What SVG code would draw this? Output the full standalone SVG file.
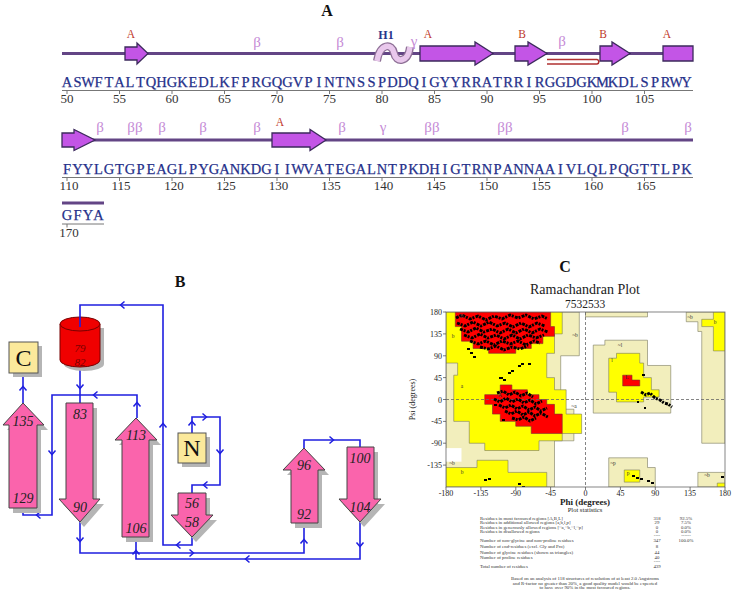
<svg xmlns="http://www.w3.org/2000/svg" xmlns:xlink="http://www.w3.org/1999/xlink" width="735" height="595" viewBox="0 0 735 595">
<style>
.title{font-family:"Liberation Serif",serif;font-size:16px;font-weight:bold;fill:#111;text-anchor:middle}
.seq{font-family:"Liberation Serif",serif;font-size:14.5px;fill:#25308a;stroke:#25308a;stroke-width:0.25;text-anchor:middle}
.num{font-family:"Liberation Serif",serif;font-size:13px;fill:#333;text-anchor:middle}
.beta{font-family:"Liberation Serif",serif;font-size:15px;fill:#c58ad6;text-anchor:middle}
.ss{font-family:"Liberation Serif",serif;font-size:11.5px;fill:#c0392b;text-anchor:middle}
.hx{font-family:"Liberation Serif",serif;font-size:12px;font-weight:bold;fill:#27348b;text-anchor:middle}
.bb{stroke:#634585;stroke-width:3;fill:none}
.ul{stroke:#777;stroke-width:1;fill:none}
.arrA{fill:#c355e6;stroke:#3c2a5c;stroke-width:1.3}
.strand{fill:#fa64ac;stroke:#444;stroke-width:1}
.shadow{fill:#b5b5b5}
.box{fill:#fbe99b;stroke:#555;stroke-width:1}
.lbl{font-family:"Liberation Serif",serif;font-style:italic;font-size:14px;fill:#222;text-anchor:middle}
.conn{fill:none;stroke:#1f1fe0;stroke-width:1.6}
.chev{fill:none;stroke:#1f1fe0;stroke-width:1.5}
.ax{font-family:"Liberation Serif",serif;font-size:8px;fill:#222}
.st{font-family:"Liberation Serif",serif;font-size:4.8px;fill:#333}
.pl{font-family:"Liberation Serif",serif;font-size:5.5px;fill:#333;text-anchor:middle}
.pale{fill:#f2eebc;stroke:#7a7a60;stroke-width:0.6}
.yel{fill:#ffff00;stroke:#7a7a60;stroke-width:0.6}
.red{fill:#ff0000;stroke:#7a3030;stroke-width:0.6}
.dots{fill:none;stroke:#000;stroke-width:2.9;stroke-dasharray:3 0.9 2 1.3;stroke-linejoin:round}
</style>
<defs>
<path id="ch" class="chev" d="M-2.5,-3.5 L1.5,0 L-2.5,3.5"/>
<clipPath id="plotclip"><rect x="446" y="312" width="279" height="175"/></clipPath>
</defs>
<rect width="735" height="595" fill="#fff"/>

<!-- Panel A -->
<g id="panelA">
<text class="title" x="327" y="16">A</text>
<path class="bb" d="M62,53.5 H693"/>
<path class="arrA" d="M125,47 H137 V43 L148,53.5 L137,64 V60 H125 Z"/>
<path class="arrA" d="M420,46 H475 V42 L493,53.5 L475,65 V61 H420 Z"/>
<path class="arrA" d="M515,46 H528 V42 L547,53.5 L528,65 V61 H515 Z"/>
<path class="arrA" d="M600,46 H612 V42 L630,53.5 L612,65 V61 H600 Z"/>
<path class="arrA" d="M663,46 H693 V61 H663 Z"/>
<path d="M377,61 C380,43 392,43 394,53 C396,63 408,63 410,47" fill="none" stroke="#8e7096" stroke-width="8"/>
<path d="M377,61 C380,43 392,43 394,53 C396,63 408,63 410,47" fill="none" stroke="#e9c8ec" stroke-width="5.5"/>
<path d="M547,59.5 H597 A2.3,2.3 0 0 1 597,64 H547" fill="none" stroke="#b03030" stroke-width="1.6"/>
<text class="ss" x="131" y="38">A</text>
<text class="beta" x="257" y="47">β</text>
<text class="beta" x="340" y="47">β</text>
<text class="hx" x="386" y="39">H1</text>
<text class="beta" x="414" y="46">γ</text>
<text class="ss" x="428" y="38">A</text>
<text class="ss" x="522" y="38">B</text>
<text class="beta" x="562" y="46">β</text>
<text class="ss" x="603" y="38">B</text>
<text class="ss" x="667" y="38">A</text>
<text class="seq" x="67 77.5 88 98.5 109 119.5 130 140.5 151 161.5 172 182.5 193 203.5 214 224.5 235 245.5 256 266.5 277 287.5 298 308.5 319 329.5 340 350.5 361 371.5 382 392.5 403 413.5 424 434.5 445 455.5 466 476.5 487 497.5 508 518.5 529 539.5 550 560.5 571 581.5 592 602.5 613 623.5 634 644.5 655 665.5 676 686.5" y="87">ASWFTALTQHGKEDLKFPRGQGVPINTNSSPDDQIGYYRRATRRIRGGDGKMKDLSPRWY</text>
<path class="ul" d="M62,90.5 H693 M67,90.5 V94 M119.5,90.5 V94 M172,90.5 V94 M224.5,90.5 V94 M277,90.5 V94 M329.5,90.5 V94 M382,90.5 V94 M434.5,90.5 V94 M487,90.5 V94 M539.5,90.5 V94 M592,90.5 V94 M644.5,90.5 V94"/>
<text class="num" x="67" y="103">50</text>
<text class="num" x="119.5" y="103">55</text>
<text class="num" x="172" y="103">60</text>
<text class="num" x="224.5" y="103">65</text>
<text class="num" x="277" y="103">70</text>
<text class="num" x="329.5" y="103">75</text>
<text class="num" x="382" y="103">80</text>
<text class="num" x="434.5" y="103">85</text>
<text class="num" x="487" y="103">90</text>
<text class="num" x="539.5" y="103">95</text>
<text class="num" x="592" y="103">100</text>
<text class="num" x="644.5" y="103">105</text>

<path class="bb" d="M62,140 H693"/>
<path class="arrA" d="M62,133 H74 V129.5 L95,140 L74,150.5 V147 H62 Z"/>
<path class="arrA" d="M272,133 H310 V129.5 L326,140 L310,150.5 V147 H272 Z"/>
<text class="beta" x="100" y="132">β</text>
<text class="beta" x="135" y="132">ββ</text>
<text class="beta" x="162" y="132">β</text>
<text class="beta" x="203" y="132">β</text>
<text class="beta" x="257" y="132">β</text>
<text class="ss" x="280" y="126">A</text>
<text class="beta" x="342" y="132">β</text>
<text class="beta" x="383" y="132">γ</text>
<text class="beta" x="432" y="132">ββ</text>
<text class="beta" x="505" y="132">ββ</text>
<text class="beta" x="625" y="132">β</text>
<text class="beta" x="688" y="132">β</text>
<text class="seq" x="67 77.5 88 98.5 109 119.5 130 140.5 151 161.5 172 182.5 193 203.5 214 224.5 235 245.5 256 266.5 277 287.5 298 308.5 319 329.5 340 350.5 361 371.5 382 392.5 403 413.5 424 434.5 445 455.5 466 476.5 487 497.5 508 518.5 529 539.5 550 560.5 571 581.5 592 602.5 613 623.5 634 644.5 655 665.5 676 686.5" y="174">FYYLGTGPEAGLPYGANKDGIIWVATEGALNTPKDHIGTRNPANNAAIVLQLPQGTTLPK</text>
<path class="ul" d="M62,177.5 H693 M67,177.5 V181 M119.5,177.5 V181 M172,177.5 V181 M224.5,177.5 V181 M277,177.5 V181 M329.5,177.5 V181 M382,177.5 V181 M434.5,177.5 V181 M487,177.5 V181 M539.5,177.5 V181 M592,177.5 V181 M644.5,177.5 V181"/>
<text class="num" x="69" y="190">110</text>
<text class="num" x="121" y="190">115</text>
<text class="num" x="174" y="190">120</text>
<text class="num" x="226" y="190">125</text>
<text class="num" x="278.5" y="190">130</text>
<text class="num" x="331" y="190">135</text>
<text class="num" x="383.5" y="190">140</text>
<text class="num" x="436" y="190">145</text>
<text class="num" x="488.5" y="190">150</text>
<text class="num" x="541" y="190">155</text>
<text class="num" x="593.5" y="190">160</text>
<text class="num" x="646" y="190">165</text>

<path class="bb" d="M62,203 H104"/>
<text class="seq" x="67 77.5 88 98.5" y="220">GFYA</text>
<path class="ul" d="M62,224 H104 M67,224 V227.5"/>
<text class="num" x="69" y="237">170</text>
</g>

<!-- Panel B -->
<text class="title" x="180" y="287">B</text>
<g id="connectors">
<path class="conn" d="M23,373 V403"/>
<path class="conn" d="M23,508 V515 H52 V395 H137 V418"/>
<path class="conn" d="M80,363 V403"/>
<path class="conn" d="M80,522 V553 H304 V523"/>
<path class="conn" d="M360,522 V559 H136 V537"/>
<path class="conn" d="M192,433 V417 H220 V485 H192 V493"/>
<path class="conn" d="M304,448 V440 H360 V447"/>
<use href="#ch" transform="translate(23,388) rotate(-90)"/>
<use href="#ch" transform="translate(38,515) rotate(180)"/>
<use href="#ch" transform="translate(52,453) rotate(90)"/>
<use href="#ch" transform="translate(95,395) rotate(180)"/>
<use href="#ch" transform="translate(137,404) rotate(-90)"/>
<use href="#ch" transform="translate(80,387) rotate(90)"/>
<use href="#ch" transform="translate(80,540) rotate(90)"/>
<use href="#ch" transform="translate(192,553)"/>
<use href="#ch" transform="translate(304,541) rotate(-90)"/>
<use href="#ch" transform="translate(360,545) rotate(90)"/>
<use href="#ch" transform="translate(247,559) rotate(180)"/>
<use href="#ch" transform="translate(136,552) rotate(-90)"/>
<use href="#ch" transform="translate(192,423) rotate(-90)"/>
<use href="#ch" transform="translate(205,417)"/>
<use href="#ch" transform="translate(220,452) rotate(90)"/>
<use href="#ch" transform="translate(205,485) rotate(180)"/>
<use href="#ch" transform="translate(332,440)"/>
</g>
<g id="nodeC">
<rect class="shadow" x="13" y="346" width="29" height="31"/>
<rect class="box" x="9" y="342" width="29" height="31"/>
<text x="23.5" y="366" font-family="Liberation Serif, serif" font-size="24" fill="#111" text-anchor="middle">C</text>
</g>
<g id="nodeN">
<rect class="shadow" x="182" y="437" width="28" height="30"/>
<rect class="box" x="178" y="433" width="28" height="30"/>
<text x="192" y="456" font-family="Liberation Serif, serif" font-size="24" fill="#111" text-anchor="middle">N</text>
</g>
<g id="helix79-82">
<path class="shadow" d="M64,328 V364 A20,7 0 0 0 104,364 V328 Z"/>
<path d="M60,324 V360 A20,7 0 0 0 100,360 V324 Z" fill="#f00000" stroke="#700" stroke-width="1"/>
<ellipse cx="80" cy="324" rx="20" ry="7" fill="#f00000" stroke="#700" stroke-width="1"/>
<text x="80" y="352" font-family="Liberation Serif, serif" font-style="italic" font-size="11" fill="#7a0000" text-anchor="middle">79</text>
<text x="80" y="366" font-family="Liberation Serif, serif" font-style="italic" font-size="11" fill="#7a0000" text-anchor="middle">82</text>
</g>
<path class="conn" d="M80,327 V305 H163 V545 H192 V537"/>
<use href="#ch" transform="translate(122,305) rotate(180)"/>
<use href="#ch" transform="translate(163,425) rotate(-90)"/>
<use href="#ch" transform="translate(178,545) rotate(180)"/>
<g id="strand129-135">
<path class="shadow" d="M13,513 V430 H7 L27,408 L48,430 H41 V513 Z"/>
<path class="strand" d="M9,508 V425 H3 L23,403 L44,425 H37 V508 Z"/>
<text class="lbl" x="23" y="426">135</text>
<text class="lbl" x="23" y="503">129</text>
</g>
<g id="strand83-90">
<path class="shadow" d="M70,408 H97 V504 H104 L84,527 L63,504 H70 Z"/>
<path class="strand" d="M66,403 H93 V499 H100 L80,522 L59,499 H66 Z"/>
<text class="lbl" x="80" y="419">83</text>
<text class="lbl" x="80" y="512">90</text>
</g>
<g id="strand106-113">
<path class="shadow" d="M126,542 V445 H119 L140,423 L161,445 H153 V542 Z"/>
<path class="strand" d="M122,537 V440 H115 L136,418 L157,440 H149 V537 Z"/>
<text class="lbl" x="136" y="440">113</text>
<text class="lbl" x="136" y="533">106</text>
</g>
<g id="strand56-58">
<path class="shadow" d="M182,498 H210 V520 H217 L196,542 L175,520 H182 Z"/>
<path class="strand" d="M178,493 H206 V515 H213 L192,537 L171,515 H178 Z"/>
<text class="lbl" x="192" y="508">56</text>
<text class="lbl" x="192" y="527">58</text>
</g>
<g id="strand92-96">
<path class="shadow" d="M295,528 V475 H287 L308,453 L329,475 H322 V528 Z"/>
<path class="strand" d="M291,523 V470 H283 L304,448 L325,470 H318 V523 Z"/>
<text class="lbl" x="304" y="470">96</text>
<text class="lbl" x="304" y="519">92</text>
</g>
<g id="strand100-104">
<path class="shadow" d="M351,452 H378 V504 H385 L364,527 L343,504 H351 Z"/>
<path class="strand" d="M347,447 H374 V499 H381 L360,522 L339,499 H347 Z"/>
<text class="lbl" x="360" y="463">100</text>
<text class="lbl" x="360" y="512">104</text>
</g>

<!-- Panel C -->
<g id="panelC">
<text class="title" x="565" y="272">C</text>
<text x="585" y="294" font-family="Liberation Serif, serif" font-size="14" fill="#222" text-anchor="middle">Ramachandran Plot</text>
<text x="585" y="307.5" font-family="Liberation Serif, serif" font-size="11.5" fill="#222" text-anchor="middle">7532533</text>
<rect x="446" y="312" width="279" height="175" fill="#fff"/>
<g clip-path="url(#plotclip)">
<g transform="matrix(0.775 0 0 -0.486 585.5 399.5)">
<polygon class="pale" vector-effect="non-scaling-stroke" points="-180,180 -8,180 -8,90 -32,90 -32,-20 -15,-20 -15,-85 -40,-85 -40,-180 -180,-180"/>
<polygon fill="#fff" points="-180,-100 -160,-100 -160,-128 -180,-128"/>
<polygon class="pale" vector-effect="non-scaling-stroke" points="0,180 80,180 80,170 0,170"/>
<polygon class="pale" vector-effect="non-scaling-stroke" points="10,112 25,112 25,122 80,122 80,70 110,70 110,-28 10,-28"/>
<polygon class="pale" vector-effect="non-scaling-stroke" points="30,-120 80,-120 80,-140 90,-140 90,-180 30,-180"/>
<polygon class="pale" vector-effect="non-scaling-stroke" points="130,180 180,180 180,-90 150,-90 150,140 145,140 145,160 130,160"/>
<polygon class="pale" vector-effect="non-scaling-stroke" points="145,-150 180,-150 180,-180 145,-180"/>
<polygon class="yel" vector-effect="non-scaling-stroke" points="-180,180 -30,180 -30,135 -40,135 -40,95 -50,95 -50,45 -40,45 -40,20 -25,20 -25,-30 -5,-30 -5,-70 -30,-70 -30,-85 -60,-85 -60,-105 -130,-105 -130,-90 -150,-90 -150,-45 -170,-45 -170,50 -165,50 -165,75 -180,75"/>
<polygon class="yel" vector-effect="non-scaling-stroke" points="-180,-180 -50,-180 -50,-150 -100,-150 -100,-125 -140,-125 -140,-140 -180,-140"/>
<polygon class="yel" vector-effect="non-scaling-stroke" points="30,85 40,85 40,95 70,95 70,75 75,75 75,45 85,45 85,20 95,20 95,5 75,5 75,-5 40,-5 40,15 30,15"/>
<polygon class="yel" vector-effect="non-scaling-stroke" points="50,-145 70,-145 70,-170 50,-170"/>
<polygon class="yel" vector-effect="non-scaling-stroke" points="180,180 165,180 165,165 150,165 150,150 165,150 165,100 180,100"/>
<polygon class="yel" vector-effect="non-scaling-stroke" points="170,-172 180,-172 180,-180 170,-180"/>
<polygon class="red" vector-effect="non-scaling-stroke" points="-168,180 -45,180 -45,150 -40,150 -40,130 -55,130 -55,115 -70,115 -70,105 -90,105 -90,95 -125,95 -125,105 -145,105 -145,120 -160,120 -160,150 -168,150"/>
<polygon class="red" vector-effect="non-scaling-stroke" points="-110,30 -95,30 -95,20 -75,20 -75,10 -60,10 -60,0 -50,0 -50,-10 -40,-10 -40,-30 -30,-30 -30,-70 -70,-70 -70,-55 -90,-55 -90,-45 -110,-45 -110,-30 -120,-30 -120,-10 -130,-10 -130,10 -110,10"/>
<polygon class="red" vector-effect="non-scaling-stroke" points="48,50 60,50 60,40 70,40 70,28 48,28"/>
</g>
<path d="M585.5,312 V487 M446,399.5 H725" stroke="#666" stroke-width="0.8" stroke-dasharray="3 2" fill="none"/>
<path class="dots" d="M456,318 L462,315 L470,319 L478,316 L486,320 L494,316 L502,319 L510,315 L518,318 L526,315 L534,319 L542,316 L548,319 M457,323 L465,326 L473,322 L481,326 L489,322 L497,326 L505,323 L513,327 L521,323 L529,327 L537,323 L545,326 M460,329 L468,332 L476,328 L484,332 L492,329 L500,333 L508,329 L516,333 L524,329 L532,333 L540,329 L548,332 M464,335 L472,338 L480,334 L488,338 L496,335 L504,339 L512,335 L520,339 L528,335 L536,338 L544,335 M470,341 L478,344 L486,341 L494,345 L502,341 L510,344 L518,341 L526,345 L534,341 L540,343 M480,347 L488,349 L496,346 L504,350 L512,347 L520,349 L528,346"/>
<path class="dots" d="M497,393 L503,391 L509,395 L515,392 L521,396 L527,393 L533,397 M494,399 L500,402 L506,398 L512,402 L518,399 L524,403 L530,400 L536,404 L542,401 M499,405 L505,408 L511,405 L517,409 L523,406 L529,410 L535,407 L541,411 L547,408 M505,411 L511,414 L517,411 L523,415 L529,412 L535,416 L541,413 L548,417 M512,418 L518,420 L524,417 L530,421 L536,418"/>
<path class="dots" stroke-width="2.2" d="M641,392 L646,395 L650,393 L655,398 L660,400 L664,403 L668,404 L672,407"/>
<g fill="#000">
<rect x="467" y="348" width="3" height="2"/><rect x="470" y="352" width="3" height="2"/><rect x="473" y="356" width="3" height="2"/>
<rect x="499" y="377" width="4" height="2"/><rect x="503" y="379" width="3" height="2"/><rect x="508" y="372" width="3" height="2"/>
<rect x="511" y="370" width="3" height="2"/><rect x="518" y="365" width="3" height="2"/><rect x="521" y="363" width="3" height="2"/>
<rect x="528" y="363" width="3" height="2"/><rect x="494" y="404" width="3" height="2"/><rect x="502" y="419" width="3" height="2"/>
<rect x="642" y="374" width="3" height="2"/><rect x="637" y="401" width="2" height="2"/><rect x="644" y="407" width="2" height="2"/>
<rect x="632" y="475" width="3" height="2"/><rect x="636" y="477" width="3" height="2"/><rect x="640" y="478" width="3" height="2"/>
<rect x="647" y="480" width="3" height="2"/><rect x="651" y="482" width="3" height="2"/><rect x="721" y="476" width="3" height="2"/>
<rect x="484" y="479" width="3" height="2"/><rect x="488" y="478" width="3" height="2"/><rect x="518" y="483" width="3" height="2"/><rect x="522" y="486" width="3" height="2"/>
</g>
</g>
<rect x="446" y="312" width="279" height="175" fill="none" stroke="#666" stroke-width="0.8"/>
<text class="pl" x="462" y="318">B</text>
<text class="pl" x="453" y="338">b</text>
<text class="pl" x="462" y="388">a</text>
<text class="pl" x="500" y="397">A</text>
<text class="pl" x="575" y="337">~b</text>
<text class="pl" x="574" y="408">~a</text>
<text class="pl" x="620" y="347">~l</text>
<text class="pl" x="612" y="362">l</text>
<text class="pl" x="627" y="379">L</text>
<text class="pl" x="613" y="465">~p</text>
<text class="pl" x="628" y="475">p</text>
<text class="pl" x="690" y="319">~b</text>
<text class="pl" x="715" y="324">b</text>
<text class="pl" x="452" y="465">~b</text>
<text class="pl" x="462" y="474">b</text>
<text class="pl" x="707" y="477">~b</text>
<path d="M443,312 H446 M443,333.9 H446 M443,355.8 H446 M443,377.6 H446 M443,399.5 H446 M443,421.4 H446 M443,443.2 H446 M443,465.1 H446 M446,487 V490 M480.9,487 V490 M515.8,487 V490 M550.6,487 V490 M585.5,487 V490 M620.4,487 V490 M655.3,487 V490 M690.1,487 V490 M725,487 V490" stroke="#444" stroke-width="0.7" fill="none"/>
<g class="ax" text-anchor="end">
<text x="442" y="315">180</text>
<text x="442" y="336.9">135</text>
<text x="442" y="358.8">90</text>
<text x="442" y="380.6">45</text>
<text x="442" y="402.5">0</text>
<text x="442" y="424.4">-45</text>
<text x="442" y="446.2">-90</text>
<text x="442" y="468.1">-135</text>
</g>
<g class="ax" text-anchor="middle">
<text x="446" y="496">-180</text>
<text x="480.9" y="496">-135</text>
<text x="515.8" y="496">-90</text>
<text x="550.6" y="496">-45</text>
<text x="585.5" y="496">0</text>
<text x="620.4" y="496">45</text>
<text x="655.3" y="496">90</text>
<text x="690.1" y="496">135</text>
<text x="725" y="496">180</text>
</g>
<text x="585" y="505" font-family="Liberation Serif, serif" font-size="9" font-weight="bold" fill="#222" text-anchor="middle">Phi (degrees)</text>
<text x="0" y="0" transform="translate(415,399.5) rotate(-90)" font-family="Liberation Serif, serif" font-size="8" fill="#222" text-anchor="middle">Psi (degrees)</text>
<text x="585" y="512" font-family="Liberation Serif, serif" font-size="6.5" fill="#222" text-anchor="middle">Plot statistics</text>
<text class="st" x="480" y="519.5">Residues in most favoured regions [A,B,L]</text>
<text class="st" x="480" y="524">Residues in additional allowed regions [a,b,l,p]</text>
<text class="st" x="480" y="528.5">Residues in generously allowed regions [~a,~b,~l,~p]</text>
<text class="st" x="480" y="533">Residues in disallowed regions</text>
<text class="st" x="480" y="541.5">Number of non-glycine and non-proline residues</text>
<text class="st" x="480" y="548">Number of end-residues (excl. Gly and Pro)</text>
<text class="st" x="480" y="554">Number of glycine residues (shown as triangles)</text>
<text class="st" x="480" y="558.5">Number of proline residues</text>
<text class="st" x="480" y="568">Total number of residues</text>
<g class="st" text-anchor="middle">
<text x="657" y="519.5">318</text><text x="686" y="519.5">92.5%</text>
<text x="657" y="524">29</text><text x="686" y="524">7.5%</text>
<text x="657" y="528.5">0</text><text x="686" y="528.5">0.0%</text>
<text x="657" y="533">0</text><text x="686" y="533">0.0%</text>
<text x="657" y="537">----</text><text x="686" y="537">------</text>
<text x="657" y="541.5">347</text><text x="686" y="541.5">100.0%</text>
<text x="657" y="548">8</text>
<text x="657" y="554">44</text>
<text x="657" y="558.5">40</text>
<text x="657" y="563">----</text>
<text x="657" y="568">439</text>
</g>
<g class="st" text-anchor="middle">
<text x="585" y="580">Based on an analysis of 118 structures of resolution of at least 2.0 Angstroms</text>
<text x="585" y="584.5">and R-factor no greater than 20%, a good quality model would be expected</text>
<text x="585" y="589">to have over 90% in the most favoured regions.</text>
</g>
</g>
</svg>
